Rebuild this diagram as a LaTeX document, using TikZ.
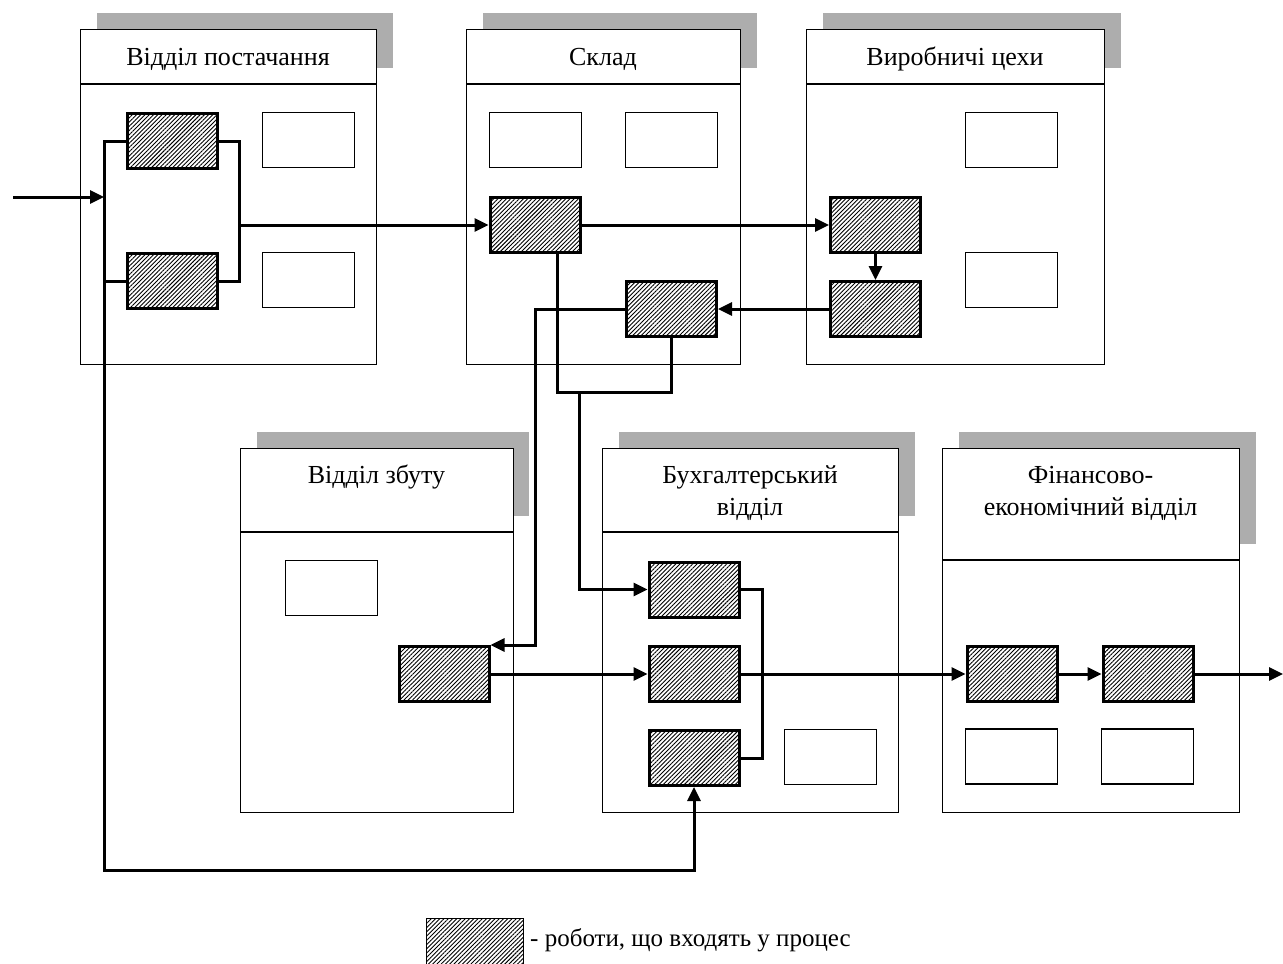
\documentclass[tikz,border=0pt]{standalone}
\usepackage{fontspec}
\setmainfont{Liberation Serif}
\usetikzlibrary{arrows.meta,patterns.meta,calc}
\begin{document}
\begin{tikzpicture}[x=1pt,y=-1pt,
  dept/.style={draw=black,line width=1.3pt,fill=white,anchor=north west,inner sep=0pt,minimum height=335pt},
  deptlow/.style={dept,minimum height=364pt},
  shade/.style={fill=black!32},
  work/.style={draw=black,line width=3pt,pattern={Lines[angle=45,distance=3pt,line width=0.9pt]},minimum width=90pt,minimum height=55pt,inner sep=0pt},
  blank/.style={draw=black,line width=1.3pt,fill=white,minimum width=92pt,minimum height=55pt,inner sep=0pt},
  conn/.style={line width=3pt,line join=miter},
  arr/.style={conn,-{Triangle[length=14pt,width=13pt]}},
  title/.style={font=\fontsize{26}{32}\selectfont,anchor=base,inner sep=0pt},
  hline/.style={line width=1.3pt},
]
\useasboundingbox (0,0) rectangle (1283,964);
\clip (0,0) rectangle (1283,964);

% shadows
\fill[shade] (97,13) rectangle (393,68);
\fill[shade] (483,13) rectangle (757,68);
\fill[shade] (823,13) rectangle (1121,68);
\fill[shade] (257,432) rectangle (529,516);
\fill[shade] (619,432) rectangle (915,516);
\fill[shade] (959,432) rectangle (1256,544);

% departments
\node[dept,minimum width=296pt] (d1) at (80,29) {};
\node[dept,minimum width=274pt] (d2) at (466,29) {};
\node[dept,minimum width=298pt] (d3) at (806,29) {};
\node[deptlow,minimum width=273pt] (d4) at (240,448) {};
\node[deptlow,minimum width=296pt] (d5) at (602,448) {};
\node[deptlow,minimum width=297pt] (d6) at (942,448) {};
\draw[hline] ($(d1.north west)+(0,55)$) -- ($(d1.north east)+(0,55)$);
\draw[hline] ($(d2.north west)+(0,55)$) -- ($(d2.north east)+(0,55)$);
\draw[hline] ($(d3.north west)+(0,55)$) -- ($(d3.north east)+(0,55)$);
\draw[hline] ($(d4.north west)+(0,84)$) -- ($(d4.north east)+(0,84)$);
\draw[hline] ($(d5.north west)+(0,84)$) -- ($(d5.north east)+(0,84)$);
\draw[hline] ($(d6.north west)+(0,112)$) -- ($(d6.north east)+(0,112)$);

% titles
\node[title] (t1) at (228,65) {Відділ постачання};
\node[title] (t2) at (603,65) {Склад};
\node[title] (t3) at (955,65) {Виробничі цехи};
\node[title] (t4) at (376.5,483) {Відділ збуту};
\node[title] (t5a) at (750,483) {Бухгалтерський};
\node[title] (t5b) at (750,515) {відділ};
\node[title] (t6a) at (1090.5,483) {Фінансово-};
\node[title] (t6b) at (1090.5,515) {економічний відділ};

% blank boxes
\node[blank] (pw1) at (308.5,140) {};
\node[blank] (pw2) at (308.5,280) {};
\node[blank] (sw1) at (535.5,140) {};
\node[blank] (sw2) at (671.5,140) {};
\node[blank] (vw1) at (1011.5,140) {};
\node[blank] (vw2) at (1011.5,280) {};
\node[blank] (zw) at (331.5,588) {};
\node[blank] (bw) at (830.5,757) {};
\node[blank] (fw1) at (1011.5,756.5) {};
\node[blank] (fw2) at (1147.5,756.5) {};

% work boxes
\node[work] (p1) at (172,141) {};
\node[work] (p2) at (172,281) {};
\node[work] (s1) at (535,225) {};
\node[work] (s2) at (671.5,309) {};
\node[work] (v1) at (875.5,225) {};
\node[work] (v2) at (875.5,309) {};
\node[work] (z1) at (444,674) {};
\node[work] (b1) at (694,589.5) {};
\node[work] (b2) at (694,674) {};
\node[work] (b3) at (694,758) {};
\node[work] (f1) at (1012,674) {};
\node[work] (f2) at (1148,674) {};

% junction coordinates
\coordinate (in) at (13,197);
\coordinate (tt) at (104,141);
\coordinate (tb) at (104,870);
\coordinate (mx) at (239,141);
\coordinate (kx) at (535,309);
\coordinate (ja) at (557,392);
\coordinate (jb) at (579,392);
\coordinate (out) at (1283,674);

% connectors
\draw[arr] (in) -- (in -| tt);
\draw[arr] (p1.west) -- (tt) -- (tb) -| (b3.south);
\draw[conn] (p2.west) -- (p2.west -| tt);
\draw[conn] (p1.east) -- (mx) |- (p2.east);
\draw[arr] (s1.west -| mx) -- (s1.west);
\draw[arr] (s1.east) -- (v1.west);
\draw[arr] (v1.south) -- (v2.north);
\draw[arr] (v2.west) -- (s2.east);
\draw[arr] (s2.west) -- (kx) |- (z1.north east);
\draw[conn] (s1.south -| ja) -- (ja) -| (s2.south);
\draw[arr] (jb) |- (b1.west);
\draw[arr] (z1.east) -- (b2.west);
\draw[conn] (b1.east) -- ++(22,0) |- (b3.east);
\draw[arr] (b2.east) -- (f1.west);
\draw[arr] (f1.east) -- (f2.west);
\draw[arr] (f2.east) -- (out);

% legend
\node[work,line width=1.2pt,minimum width=97pt,minimum height=50pt,anchor=north west] (lg) at (426,918) {};
\node[anchor=base west,font=\fontsize{25}{30}\selectfont,inner sep=0pt] (lgt) at (530,946) {- роботи, що входять у процес};
\end{tikzpicture}
\end{document}
